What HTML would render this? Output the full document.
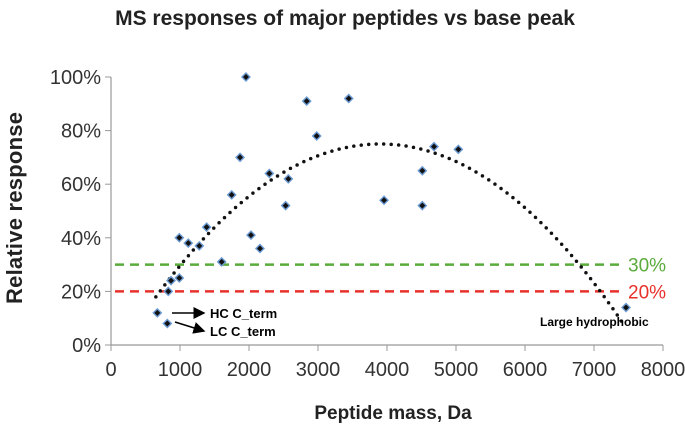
<!DOCTYPE html>
<html><head><meta charset="utf-8"><style>
body{margin:0;background:#fff;width:685px;height:429px;overflow:hidden;font-family:"Liberation Sans",sans-serif}
</style></head><body>
<svg id="chart" width="685" height="429" xmlns="http://www.w3.org/2000/svg" font-family="Liberation Sans, sans-serif">
<defs><marker id="ah" markerWidth="8" markerHeight="8" refX="7" refY="4" orient="auto"><path d="M0,0 L8,4 L0,8 z" fill="#000"/></marker></defs>
<text x="345" y="25" text-anchor="middle" font-size="21" font-weight="bold" fill="#222">MS responses of major peptides vs base peak</text>
<text transform="translate(22,208) rotate(-90)" text-anchor="middle" font-size="22" font-weight="bold" fill="#222" textLength="192">Relative response</text>
<text x="393" y="419" text-anchor="middle" font-size="19" font-weight="bold" fill="#222">Peptide mass, Da</text>
<g id="axes"></g><g id="marks"></g>
<g>
<line x1="172" y1="313" x2="204" y2="313" stroke="#000" stroke-width="1.5" marker-end="url(#ah)"/>
<line x1="175" y1="322" x2="204" y2="331" stroke="#000" stroke-width="1.5" marker-end="url(#ah)"/>
<text x="210" y="318" font-size="13" font-weight="bold">HC C_term</text>
<text x="210" y="336" font-size="13" font-weight="bold">LC C_term</text>
<text x="540" y="326" font-size="12" font-weight="bold">Large hydrophobic</text>
</g>
</svg>
<script>
const massValues=[1956,2836,3445,2981,1870,2295,2570,1749,2531,1386,990,1120,1280,2029,2159,1604,990,870,830,671,816,4681,5034,4512,3957,4512,7464];
const responseValues=[100,91,92,78,70,64,62,56,52,44,40,38,37,41,36,31,25,24,20,12,8,74,73,65,54,52,14];
const xTicks=[0,1000,2000,3000,4000,5000,6000,7000,8000];
const yTicks=[0,20,40,60,80,100];
const trendCoef=[75,3900,5.4e-6]; // peak, center, curvature
const trendRange=[650,7420];
const thresholds=[30,20];
const thresholdColors=['#5aab3c','#e8312a'];
const NS='http://www.w3.org/2000/svg';
const X=v=>111+v*(552/8000), Y=v=>345-v*2.68;
const axes=document.getElementById('axes'),marks=document.getElementById('marks');
function mk(tag,a,p){const e=document.createElementNS(NS,tag);for(const k in a)e.setAttribute(k,a[k]);p.appendChild(e);return e;}
let e=mk('line',{x1:111,y1:Y(0),x2:663,y2:Y(0),stroke:'#999','stroke-width':1.2},axes);


e=mk('line',{x1:111,y1:Y(0),x2:111,y2:Y(100),stroke:'#999','stroke-width':1.2},axes);


xTicks.forEach(t=>{mk('line',{x1:X(t),y1:345,x2:X(t),y2:351,stroke:'#999'},axes);
const tx=mk('text',{x:X(t),y:376,'text-anchor':'middle','font-size':20,fill:'#333'},axes);tx.textContent=t;

});
yTicks.forEach(t=>{mk('line',{x1:105,y1:Y(t),x2:111,y2:Y(t),stroke:'#999'},axes);
const tx=mk('text',{x:101,y:Y(t)+7,'text-anchor':'end','font-size':20,fill:'#333'},axes);tx.textContent=t+'%';

});
thresholds.forEach((t,i)=>{const l=mk('line',{x1:115,y1:Y(t),x2:620,y2:Y(t),stroke:thresholdColors[i],'stroke-width':2.5,'stroke-dasharray':'9,6'},marks);


const tx=mk('text',{x:628,y:Y(t)+7,'font-size':19,fill:thresholdColors[i]},marks);tx.textContent=t+'%';

});
let pts=[];for(let m=trendRange[0];m<=trendRange[1];m+=10){pts.push(X(m)+','+Y(trendCoef[0]-trendCoef[2]*(m-trendCoef[1])**2));}
const tl=mk('polyline',{points:pts.join(' '),fill:'none',stroke:'#111','stroke-width':3.5,'stroke-linecap':'round','stroke-dasharray':'0,7.5'},marks);


massValues.forEach((m,i)=>{const x=X(m),y=Y(responseValues[i]);
const g=mk('g',{},marks);


mk('path',{d:`M${x},${y-5}L${x+5},${y}L${x},${y+5}L${x-5},${y}Z`,fill:'#6d9bd3'},g);
mk('path',{d:`M${x},${y-3}L${x+3},${y}L${x},${y+3}L${x-3},${y}Z`,fill:'#111'},g);});
</script>
</body></html>
